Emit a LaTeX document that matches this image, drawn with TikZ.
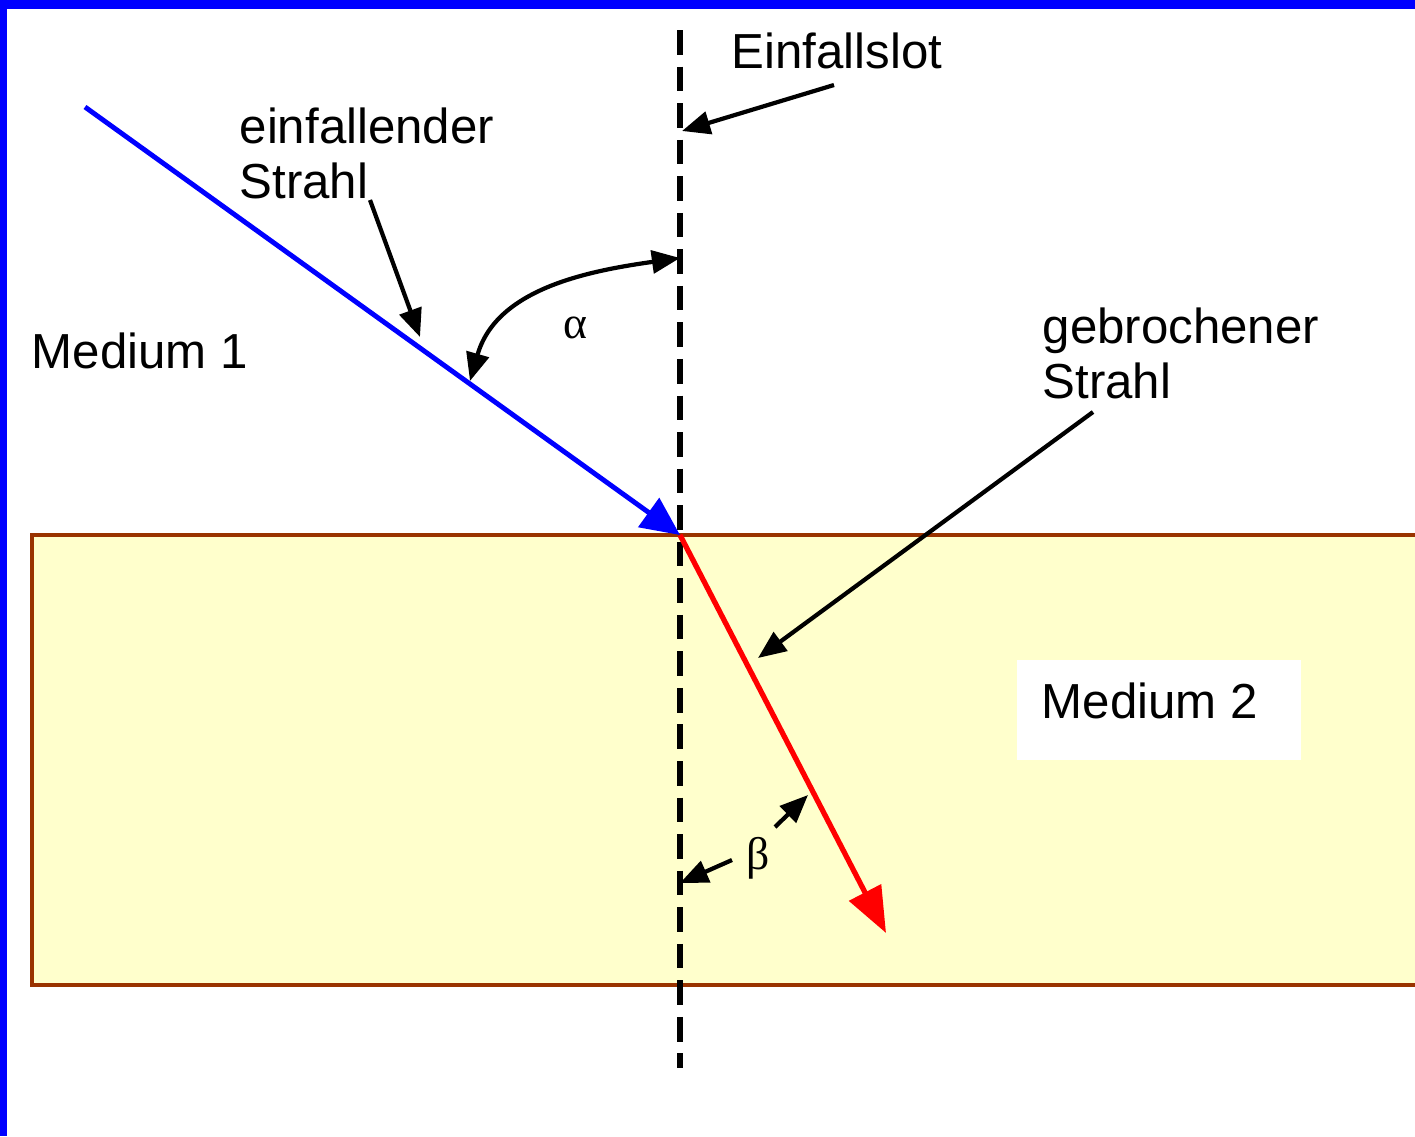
\documentclass[tikz,border=0pt]{standalone}
\usepackage{fontspec}
\setmainfont{Liberation Sans}
\newfontfamily\greekfont{Liberation Serif}
\usetikzlibrary{arrows.meta}
\definecolor{rim}{RGB}{0,0,255}
\definecolor{brick}{RGB}{153,51,0}
\definecolor{cream}{RGB}{255,255,204}

\begin{document}
\begin{tikzpicture}[>={Triangle[length=8pt,width=6.5pt]},
  medtext/.style={inner sep=0pt, font=\fontsize{14}{15.6}\selectfont, align=left},
  greektext/.style={inner sep=0pt, font=\greekfont\fontsize{13}{15}\selectfont},
  pointer/.style={->, line width=1.2pt},
  lotline/.style={line width=1.6pt, dash pattern=on 7pt off 3.4pt}]
\useasboundingbox (0,0) rectangle (14.15,11.36);
% Frame
\fill[white] (0,0) rectangle (14.15,11.36);
\fill[rim] (0,0) rectangle (0.07,11.36);
\fill[rim] (0,11.27) rectangle (14.15,11.36);
% Medium 2
\draw[brick, fill=cream, line width=1.1pt] (0.32,1.51) rectangle (14.4,6.01);
\fill[white] (10.17,3.76) rectangle (13.01,4.76);

% Coordinates
\coordinate (O) at (6.80,6.01);
\coordinate (lotTop) at (6.80,11.06);
\coordinate (lotBot) at (6.80,0.68);
\coordinate (inStart) at (0.85,10.29);
\coordinate (outEnd) at (8.86,2.03);

% Rays
\draw[lotline] (lotTop) -- (lotBot);
\draw[rim, line width=1.4pt, -{Triangle[length=11pt,width=10pt]}] (inStart) -- (O);
\draw[red, line width=1.5pt, -{Triangle[length=13pt,width=10pt]}] (O) -- (outEnd);

% Nodes
\node[medtext, anchor=base west] (medA) at (0.31,7.68) {Medium 1};
\node[medtext, anchor=base west] (medB) at (10.41,4.18) {Medium 2};
\node[medtext, anchor=base west] (lot) at (7.31,10.68) {Einfallslot};
\node[medtext, anchor=north west] (einfall) at (2.39,10.29) {einfallender\\Strahl};
\node[medtext, anchor=north west] (gebrochen) at (10.42,8.29) {gebrochener\\Strahl};
\node[greektext] (alpha) at (5.75,8.08) {α};
\node[greektext] (beta) at (7.58,2.78) {β};

% Pointers
\coordinate (lotTail) at (8.34,10.51);
\coordinate (lotTip) at (6.82,10.05);
\coordinate (einfallTail) at (3.70,9.36);
\coordinate (einfallTip) at (4.20,7.99);
\coordinate (gebrochenTail) at (10.93,7.24);
\coordinate (gebrochenTip) at (7.58,4.78);
\coordinate (alphaA) at (4.70,7.55);
\coordinate (alphaB) at (6.80,8.78);
\coordinate (betaTailA) at (7.32,2.76);
\coordinate (betaTipA) at (6.80,2.53);
\coordinate (betaTailB) at (7.75,3.09);
\coordinate (betaTipB) at (8.08,3.41);

\draw[pointer] (lotTail) -- (lotTip);
\draw[pointer] (einfallTail) -- (einfallTip);
\draw[pointer] (gebrochenTail) -- (gebrochenTip);
\draw[pointer, <->] (alphaA) to[out=74, in=188] (alphaB);
\draw[pointer] (betaTailA) -- (betaTipA);
\draw[pointer] (betaTailB) -- (betaTipB);
\end{tikzpicture}
\end{document}
